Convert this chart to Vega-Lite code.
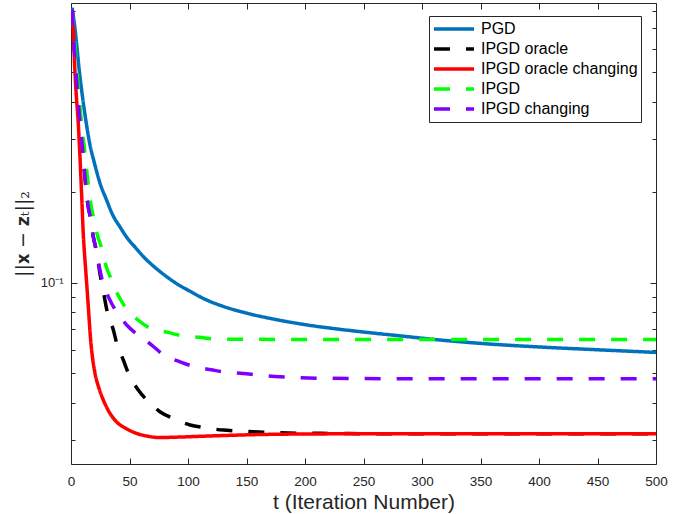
{
  "$schema": "https://vega.github.io/schema/vega-lite/v6.json",
  "width": 585,
  "height": 461,
  "autosize": "none",
  "padding": {"left": 71, "top": 3, "right": 35, "bottom": 50},
  "background": "white",
  "config": {
    "view": {"stroke": "#262626", "strokeWidth": 1},
    "axis": {"labelFont": "Liberation Sans", "titleFont": "Liberation Sans", "labelColor": "#262626", "titleColor": "#262626", "tickColor": "#262626", "domain": false, "grid": false, "tickWidth": 1}
  },
  "data": {"values": [
    {"s": "PGD", "t": 1, "v": 0.82},
    {"s": "PGD", "t": 3, "v": 0.72},
    {"s": "PGD", "t": 5, "v": 0.61},
    {"s": "PGD", "t": 7, "v": 0.51},
    {"s": "PGD", "t": 10, "v": 0.41},
    {"s": "PGD", "t": 13, "v": 0.34},
    {"s": "PGD", "t": 16, "v": 0.29},
    {"s": "PGD", "t": 20, "v": 0.25},
    {"s": "PGD", "t": 25, "v": 0.213},
    {"s": "PGD", "t": 30, "v": 0.19},
    {"s": "PGD", "t": 36, "v": 0.167},
    {"s": "PGD", "t": 42, "v": 0.153},
    {"s": "PGD", "t": 48, "v": 0.141},
    {"s": "PGD", "t": 55, "v": 0.131},
    {"s": "PGD", "t": 62, "v": 0.122},
    {"s": "PGD", "t": 70, "v": 0.114},
    {"s": "PGD", "t": 80, "v": 0.106},
    {"s": "PGD", "t": 90, "v": 0.0995},
    {"s": "PGD", "t": 100, "v": 0.0945},
    {"s": "PGD", "t": 115, "v": 0.088},
    {"s": "PGD", "t": 130, "v": 0.0835},
    {"s": "PGD", "t": 150, "v": 0.0793},
    {"s": "PGD", "t": 175, "v": 0.0755},
    {"s": "PGD", "t": 200, "v": 0.0726},
    {"s": "PGD", "t": 240, "v": 0.0693},
    {"s": "PGD", "t": 280, "v": 0.0667},
    {"s": "PGD", "t": 320, "v": 0.0643},
    {"s": "PGD", "t": 360, "v": 0.0625},
    {"s": "PGD", "t": 400, "v": 0.0612},
    {"s": "PGD", "t": 450, "v": 0.0599},
    {"s": "PGD", "t": 500, "v": 0.0587},

    {"s": "IPGD oracle", "t": 1, "v": 0.81},
    {"s": "IPGD oracle", "t": 3.4, "v": 0.558},
    {"s": "IPGD oracle", "t": 5.4, "v": 0.437},
    {"s": "IPGD oracle", "t": 7.7, "v": 0.34},
    {"s": "IPGD oracle", "t": 10.3, "v": 0.268},
    {"s": "IPGD oracle", "t": 12, "v": 0.223},
    {"s": "IPGD oracle", "t": 14.5, "v": 0.181},
    {"s": "IPGD oracle", "t": 16.7, "v": 0.164},
    {"s": "IPGD oracle", "t": 18.8, "v": 0.144},
    {"s": "IPGD oracle", "t": 22, "v": 0.126},
    {"s": "IPGD oracle", "t": 25, "v": 0.106},
    {"s": "IPGD oracle", "t": 28, "v": 0.092},
    {"s": "IPGD oracle", "t": 31, "v": 0.08},
    {"s": "IPGD oracle", "t": 34, "v": 0.074},
    {"s": "IPGD oracle", "t": 36.2, "v": 0.0697},
    {"s": "IPGD oracle", "t": 39, "v": 0.0631},
    {"s": "IPGD oracle", "t": 44.7, "v": 0.0554},
    {"s": "IPGD oracle", "t": 49, "v": 0.0501},
    {"s": "IPGD oracle", "t": 57.5, "v": 0.044},
    {"s": "IPGD oracle", "t": 64.7, "v": 0.0408},
    {"s": "IPGD oracle", "t": 76, "v": 0.0373},
    {"s": "IPGD oracle", "t": 87.4, "v": 0.0354},
    {"s": "IPGD oracle", "t": 101.7, "v": 0.0337},
    {"s": "IPGD oracle", "t": 114.5, "v": 0.033},
    {"s": "IPGD oracle", "t": 130, "v": 0.0324},
    {"s": "IPGD oracle", "t": 141.6, "v": 0.0322},
    {"s": "IPGD oracle", "t": 155.6, "v": 0.032},
    {"s": "IPGD oracle", "t": 170, "v": 0.0318},
    {"s": "IPGD oracle", "t": 213, "v": 0.0316},
    {"s": "IPGD oracle", "t": 300, "v": 0.0315},
    {"s": "IPGD oracle", "t": 500, "v": 0.0315},

    {"s": "IPGD oracle changing", "t": 1, "v": 0.8},
    {"s": "IPGD oracle changing", "t": 2, "v": 0.68},
    {"s": "IPGD oracle changing", "t": 3, "v": 0.54},
    {"s": "IPGD oracle changing", "t": 4.5, "v": 0.42},
    {"s": "IPGD oracle changing", "t": 6, "v": 0.35},
    {"s": "IPGD oracle changing", "t": 7.5, "v": 0.27},
    {"s": "IPGD oracle changing", "t": 9, "v": 0.2},
    {"s": "IPGD oracle changing", "t": 10.5, "v": 0.145},
    {"s": "IPGD oracle changing", "t": 12, "v": 0.118},
    {"s": "IPGD oracle changing", "t": 13.4, "v": 0.0995},
    {"s": "IPGD oracle changing", "t": 14.8, "v": 0.0832},
    {"s": "IPGD oracle changing", "t": 16.8, "v": 0.0645},
    {"s": "IPGD oracle changing", "t": 18.5, "v": 0.056},
    {"s": "IPGD oracle changing", "t": 20.5, "v": 0.0501},
    {"s": "IPGD oracle changing", "t": 24, "v": 0.0445},
    {"s": "IPGD oracle changing", "t": 27.6, "v": 0.0408},
    {"s": "IPGD oracle changing", "t": 33, "v": 0.037},
    {"s": "IPGD oracle changing", "t": 39, "v": 0.0345},
    {"s": "IPGD oracle changing", "t": 47, "v": 0.0328},
    {"s": "IPGD oracle changing", "t": 56, "v": 0.0316},
    {"s": "IPGD oracle changing", "t": 66, "v": 0.0309},
    {"s": "IPGD oracle changing", "t": 75, "v": 0.0306},
    {"s": "IPGD oracle changing", "t": 90, "v": 0.0307},
    {"s": "IPGD oracle changing", "t": 121, "v": 0.031},
    {"s": "IPGD oracle changing", "t": 179, "v": 0.0314},
    {"s": "IPGD oracle changing", "t": 250, "v": 0.0315},
    {"s": "IPGD oracle changing", "t": 500, "v": 0.0315},

    {"s": "IPGD", "t": 1, "v": 0.81},
    {"s": "IPGD", "t": 4.3, "v": 0.558},
    {"s": "IPGD", "t": 6.4, "v": 0.437},
    {"s": "IPGD", "t": 9, "v": 0.34},
    {"s": "IPGD", "t": 12, "v": 0.268},
    {"s": "IPGD", "t": 14.1, "v": 0.223},
    {"s": "IPGD", "t": 17.1, "v": 0.181},
    {"s": "IPGD", "t": 19.7, "v": 0.162},
    {"s": "IPGD", "t": 22.2, "v": 0.146},
    {"s": "IPGD", "t": 26.8, "v": 0.128},
    {"s": "IPGD", "t": 29.7, "v": 0.1145},
    {"s": "IPGD", "t": 34.8, "v": 0.102},
    {"s": "IPGD", "t": 40.2, "v": 0.091},
    {"s": "IPGD", "t": 46.2, "v": 0.0832},
    {"s": "IPGD", "t": 57.3, "v": 0.0752},
    {"s": "IPGD", "t": 67.5, "v": 0.0707},
    {"s": "IPGD", "t": 83, "v": 0.0684},
    {"s": "IPGD", "t": 94.6, "v": 0.0667},
    {"s": "IPGD", "t": 110, "v": 0.0659},
    {"s": "IPGD", "t": 121, "v": 0.0651},
    {"s": "IPGD", "t": 150, "v": 0.0649},
    {"s": "IPGD", "t": 200, "v": 0.0648},
    {"s": "IPGD", "t": 500, "v": 0.0648},

    {"s": "IPGD changing", "t": 1, "v": 0.81},
    {"s": "IPGD changing", "t": 3.4, "v": 0.558},
    {"s": "IPGD changing", "t": 5.4, "v": 0.437},
    {"s": "IPGD changing", "t": 7.7, "v": 0.34},
    {"s": "IPGD changing", "t": 10.3, "v": 0.268},
    {"s": "IPGD changing", "t": 12, "v": 0.223},
    {"s": "IPGD changing", "t": 14.5, "v": 0.181},
    {"s": "IPGD changing", "t": 16.7, "v": 0.164},
    {"s": "IPGD changing", "t": 18.8, "v": 0.144},
    {"s": "IPGD changing", "t": 22, "v": 0.126},
    {"s": "IPGD changing", "t": 24, "v": 0.114},
    {"s": "IPGD changing", "t": 27.1, "v": 0.1005},
    {"s": "IPGD changing", "t": 32.5, "v": 0.0889},
    {"s": "IPGD changing", "t": 39, "v": 0.0799},
    {"s": "IPGD changing", "t": 47.6, "v": 0.0724},
    {"s": "IPGD changing", "t": 57.3, "v": 0.067},
    {"s": "IPGD changing", "t": 69, "v": 0.0621},
    {"s": "IPGD changing", "t": 78.6, "v": 0.0578},
    {"s": "IPGD changing", "t": 93.2, "v": 0.0546},
    {"s": "IPGD changing", "t": 104.3, "v": 0.0528},
    {"s": "IPGD changing", "t": 120, "v": 0.0514},
    {"s": "IPGD changing", "t": 131.6, "v": 0.0505},
    {"s": "IPGD changing", "t": 147, "v": 0.05},
    {"s": "IPGD changing", "t": 160, "v": 0.0494},
    {"s": "IPGD changing", "t": 178.6, "v": 0.0487},
    {"s": "IPGD changing", "t": 213, "v": 0.0482},
    {"s": "IPGD changing", "t": 281, "v": 0.048},
    {"s": "IPGD changing", "t": 500, "v": 0.048}
  ]},
  "layer": [
    {
      "mark": {"type": "line", "strokeWidth": 3.5, "interpolate": "monotone", "clip": true},
      "encoding": {
        "x": {"field": "t", "type": "quantitative",
          "scale": {"domain": [0, 500], "nice": false, "zero": false},
          "axis": {"orient": "bottom", "values": [0, 50, 100, 150, 200, 250, 300, 350, 400, 450, 500],
            "tickSize": -6, "labelPadding": 16, "labelFontSize": 13.5, "labelFlush": false,
            "title": "t (Iteration Number)", "titleFontSize": 21, "titleFontWeight": "normal", "titlePadding": 4}},
        "y": {"field": "v", "type": "quantitative",
          "scale": {"type": "log", "domain": [0.025, 0.85], "nice": false},
          "axis": {"orient": "left", "values": [0.03, 0.04, 0.05, 0.06, 0.07, 0.08, 0.09, 0.1, 0.2, 0.3, 0.4, 0.5, 0.6, 0.7, 0.8],
            "tickSize": {"condition": {"test": "datum.value == 0.1", "value": -6}, "value": -4},
            "labelExpr": "datum.value == 0.1 ? '10⁻¹' : ''", "labelPadding": 14, "labelFontSize": 13, "labelFlush": false,
            "title": "||𝐱 − 𝐳ₜ||₂", "titleFont": "DejaVu Serif", "titleFontSize": 19, "titleFontWeight": "normal", "titlePadding": 8}},
        "color": {"field": "s", "type": "nominal",
          "scale": {"domain": ["PGD", "IPGD oracle", "IPGD oracle changing", "IPGD", "IPGD changing"],
            "range": ["#0072BD", "#000000", "#FF0000", "#00FF00", "#7F00FF"]},
          "legend": {"title": null, "orient": "none", "legendX": 358, "legendY": 13, "symbolType": "stroke", "symbolSize": 1600,
            "symbolStrokeWidth": 3.5, "labelFont": "Liberation Sans", "labelFontSize": 16, "labelColor": "#000000",
            "strokeColor": "#262626", "fillColor": "white", "padding": 3, "rowPadding": 0, "labelOffset": 5, "clipHeight": 20}},
        "strokeDash": {"field": "s", "type": "nominal",
          "scale": {"domain": ["PGD", "IPGD oracle", "IPGD oracle changing", "IPGD", "IPGD changing"],
            "range": [[1, 0], [16, 16], [1, 0], [16, 16], [16, 16]]},
          "legend": {"title": null, "orient": "none", "legendX": 358, "legendY": 13, "symbolType": "stroke", "symbolSize": 1600,
            "symbolStrokeWidth": 3.5, "labelFont": "Liberation Sans", "labelFontSize": 16, "labelColor": "#000000",
            "strokeColor": "#262626", "fillColor": "white", "padding": 3, "rowPadding": 0, "labelOffset": 5, "clipHeight": 20}}
      }
    },
    {
      "mark": {"type": "point", "opacity": 0},
      "encoding": {
        "x": {"field": "t", "type": "quantitative",
          "axis": {"orient": "top", "values": [0, 50, 100, 150, 200, 250, 300, 350, 400, 450, 500], "tickSize": -6, "labels": false, "title": null}},
        "y": {"field": "v", "type": "quantitative",
          "axis": {"orient": "right", "values": [0.03, 0.04, 0.05, 0.06, 0.07, 0.08, 0.09, 0.1, 0.2, 0.3, 0.4, 0.5, 0.6, 0.7, 0.8],
            "tickSize": {"condition": {"test": "datum.value == 0.1", "value": -6}, "value": -4}, "labels": false, "title": null}}
      }
    }
  ],
  "resolve": {"axis": {"x": "independent", "y": "independent"}}
}
